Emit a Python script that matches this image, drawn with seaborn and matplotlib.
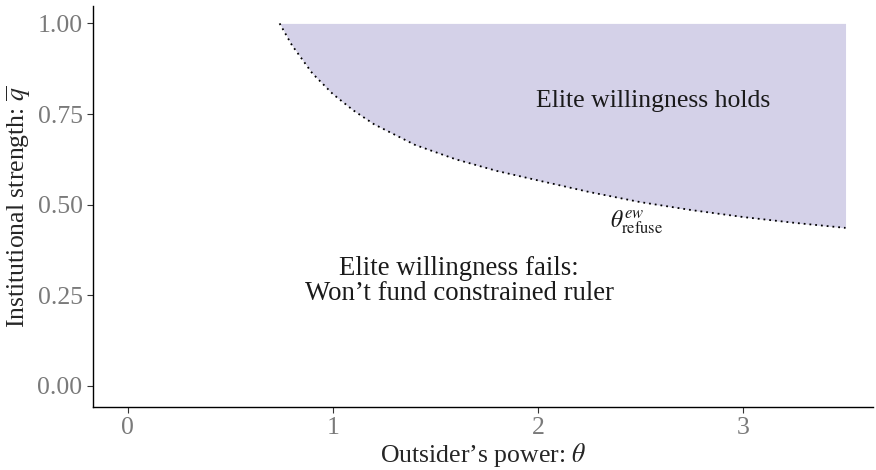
import pandas as pd
import matplotlib
matplotlib.use('Agg')
import matplotlib.pyplot as plt
import seaborn as sns

# Threshold curve
theta = [0.74, 0.80, 0.90, 1.00, 1.10, 1.20, 1.40, 1.60, 1.80, 2.00, 2.25, 2.50, 2.75, 3.00, 3.25, 3.50]
q_bar = [1.00, 0.94, 0.862, 0.805, 0.76, 0.722, 0.665, 0.625, 0.593, 0.567, 0.535, 0.507, 0.485, 0.466, 0.45, 0.436]

x_ticks = [0, 1, 2, 3]
y_ticks = [0.00, 0.25, 0.50, 0.75, 1.00]
y_tick_labels = ['0.00', '0.25', '0.50', '0.75', '1.00']

df = pd.DataFrame({'theta': theta, 'q': q_bar})

sns.set_theme(style='ticks')
plt.rcParams['font.family'] = ['Liberation Serif', 'DejaVu Serif']
plt.rcParams['mathtext.fontset'] = 'stix'

fig = plt.figure(figsize=(8.76, 4.70), dpi=100)
ax = fig.add_axes([93 / 876, 63 / 470, 780 / 876, 401 / 470])

# Shaded region above the curve
ax.fill_between(df['theta'], df['q'], 1.0, color='#d4d1e8', linewidth=0)
sns.lineplot(x='theta', y='q', data=df, ax=ax, color='black',
             linestyle=(0, (1, 2.2)), linewidth=1.3)

# Region labels
ax.text(2.56, 0.785, 'Elite willingness holds', ha='center', va='center',
        fontsize=18.5, color='#1a1a1a')
ax.text(1.615, 0.29, 'Elite willingness fails:\nWon\u2019t fund constrained ruler',
        ha='center', va='center', fontsize=19.3, color='#1a1a1a', linespacing=0.98)
ax.text(2.48, 0.452, r'$\theta^{ew}_{\mathrm{refuse}}$', ha='center', va='center',
        fontsize=17, color='#1a1a1a')

ax.set_xlim(-0.17, 3.634)
ax.set_ylim(-0.058, 1.048)
ax.set_xticks(x_ticks)
ax.set_yticks(y_ticks)
ax.set_yticklabels(y_tick_labels)
ax.tick_params(axis='both', labelsize=18.5, labelcolor='#7a7a7a', color='#333333',
               length=4, width=0.8)
ax.set_xlabel(r'Outsider’s power: $\theta$', fontsize=18.5, labelpad=1)
ax.set_ylabel(r'Institutional strength: $\overline{q}$', fontsize=18.5, labelpad=3)

sns.despine(ax=ax)
for side in ['left', 'bottom']:
    ax.spines[side].set_color('black')
    ax.spines[side].set_linewidth(1.0)

fig.savefig('out.png', dpi=100)
